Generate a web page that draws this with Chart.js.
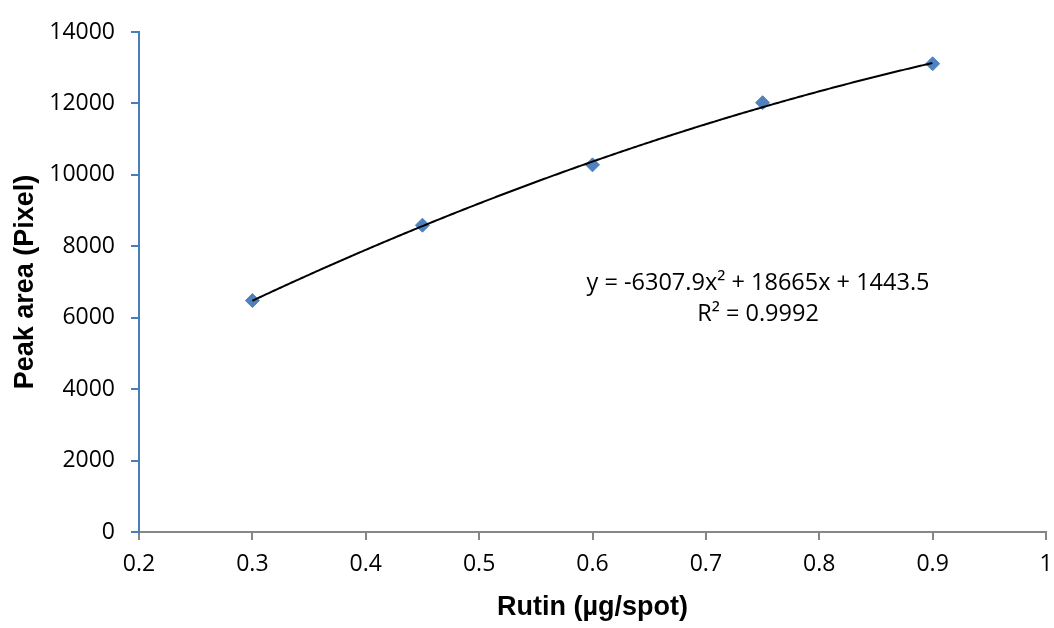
<!DOCTYPE html>
<html>
<head>
<meta charset="utf-8">
<script src="https://cdn.jsdelivr.net/npm/chart.js@4"></script>
<style>
    html, body { margin: 0; padding: 0; background: #ffffff; }
    #wrap { width: 1054px; height: 628px; }
</style>
</head>
<body>
<div id="wrap"><canvas id="chart" width="1054" height="628"></canvas></div>
<script>
// ── Data ──────────────────────────────────────────────────

const rutinAmounts = [0.3, 0.45, 0.6, 0.75, 0.9];
const peakAreas    = [6480, 8590, 10280, 12020, 13110];

// trendline as printed on the chart: a·x² + b·x + c
const trendCoefs   = [-6307.9, 18665, 1443.5];
const trendLabel   = ['y = -6307.9x\u00B2 + 18665x + 1443.5', 'R\u00B2 = 0.9992'];

const xTitle = 'Rutin (\u00B5g/spot)';
const yTitle = 'Peak area (Pixel)';

// ── Style ─────────────────────────────────────────────────

const markerBlue = '#4f81bd';
const yAxisBlue  = '#4a7ebb';
const xAxisGrey  = '#868686';
const tickFont   = { family: '"Open Sans", sans-serif', size: 23 };
const titleFont  = { family: '"Liberation Sans", Arial, sans-serif', size: 27, weight: 'bold' };

// ── Plugin: polynomial trendline + equation ───────────────

const trendPlugin = {
    id: 'trendPlugin',
    afterDatasetsDraw(chart) {
        const ctx = chart.ctx;
        const xs  = chart.scales.x;
        const ys  = chart.scales.y;
        const [a, b, c] = trendCoefs;
        const x0 = xs.getPixelForValue(Math.min(...rutinAmounts));
        const x1 = xs.getPixelForValue(Math.max(...rutinAmounts));

        ctx.save();
        ctx.beginPath();
        for (let px = x0; px <= x1 + 0.01; px += 2) {
            const v  = xs.getValueForPixel(Math.min(px, x1));
            const py = ys.getPixelForValue(a * v * v + b * v + c);
            if (px === x0) ctx.moveTo(px, py); else ctx.lineTo(Math.min(px, x1), py);
        }
        ctx.strokeStyle = '#000000';
        ctx.lineWidth = 2;
        ctx.stroke();

        // equation label, placed relative to the plot area
        const area = chart.chartArea;
        const cx = area.left + (area.right - area.left) * 0.6825;
        const cy = area.top + (area.bottom - area.top) * 0.502;
        ctx.fillStyle = '#000000';
        ctx.font = '23.5px "Open Sans", sans-serif';
        ctx.textAlign = 'center';
        ctx.textBaseline = 'middle';
        ctx.fillText(trendLabel[0], cx, cy);
        ctx.fillText(trendLabel[1], cx, cy + 31);
        ctx.restore();
    }
};

// ── Chart ─────────────────────────────────────────────────

new Chart(document.getElementById('chart').getContext('2d'), {
    type: 'scatter',
    plugins: [trendPlugin],
    data: {
        datasets: [{
            data: rutinAmounts.map((x, i) => ({ x, y: peakAreas[i] })),
            pointStyle: 'rectRot',
            pointRadius: 7,
            pointHoverRadius: 7,
            backgroundColor: markerBlue,
            borderColor: markerBlue,
            borderWidth: 1
        }]
    },
    options: {
        responsive: false,
        animation: false,
        layout: { padding: { top: 32, right: 8, left: 0, bottom: 0 } },
        plugins: {
            legend:  { display: false },
            tooltip: { enabled: false }
        },
        scales: {
            x: {
                type: 'linear',
                min: 0.2,
                max: 1,
                afterFit: s => { s.height = 96; s.paddingLeft = 0; s.paddingRight = 0; },
                ticks: {
                    stepSize: 0.1,
                    color: '#000000',
                    font: tickFont,
                    padding: 11,
                    callback: v => String(Math.round(v * 10) / 10)
                },
                grid:   { drawOnChartArea: false, color: xAxisGrey, tickLength: 8, lineWidth: 2 },
                border: { color: xAxisGrey, width: 2 },
                title:  { display: true, text: xTitle, color: '#000000', font: titleFont, padding: { top: 6 } }
            },
            y: {
                min: 0,
                max: 14000,
                afterFit: s => { s.width = 139; s.paddingTop = 0; s.paddingBottom = 0; },
                ticks: {
                    stepSize: 2000,
                    color: '#000000',
                    font: tickFont,
                    padding: 16,
                    callback: v => String(v)
                },
                grid:   { drawOnChartArea: false, color: yAxisBlue, tickLength: 8, lineWidth: 2 },
                border: { color: yAxisBlue, width: 2 },
                title:  { display: true, text: yTitle, color: '#000000', font: titleFont, padding: { top: 9, bottom: 4 } }
            }
        }
    }
});
</script>
</body>
</html>
